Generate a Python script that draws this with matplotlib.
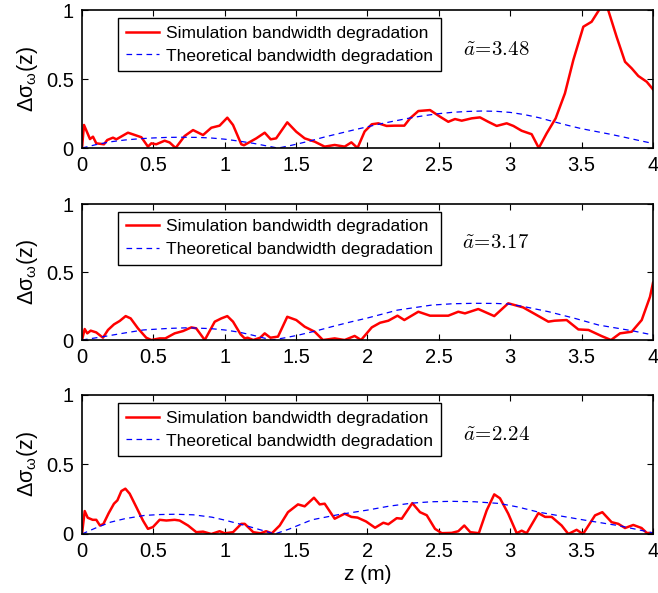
import matplotlib
matplotlib.use("Agg")
import matplotlib.pyplot as plt
import numpy as np

plt.rcParams['font.family'] = ['Liberation Sans', 'DejaVu Sans']

# panel 1 (a~ = 3.48)
z_sim1 = [0, 0.014, 0.056, 0.077, 0.10, 0.154, 0.177, 0.217, 0.241, 0.322, 0.357, 0.416, 0.462,
          0.486, 0.52, 0.579, 0.614, 0.656, 0.719, 0.778, 0.848, 0.906, 0.964, 1.018, 1.058,
          1.116, 1.135, 1.221, 1.28, 1.322, 1.36, 1.438, 1.501, 1.56, 1.63, 1.70, 1.77, 1.84,
          1.887, 1.93, 1.98, 2.03, 2.076, 2.134, 2.19, 2.258, 2.298, 2.356, 2.438, 2.508, 2.566,
          2.613, 2.66, 2.73, 2.788, 2.846, 2.905, 2.975, 3.022, 3.08, 3.15, 3.20, 3.255, 3.318,
          3.383, 3.442, 3.512, 3.57, 3.628, 3.655, 3.683, 3.745, 3.804, 3.851, 3.897, 3.956, 4.0]
sim1 = [0, 0.167, 0.065, 0.082, 0.034, 0.027, 0.058, 0.075, 0.063, 0.111, 0.099, 0.078, 0.01,
        0.034, 0.027, 0.053, 0.04, 0.0, 0.087, 0.13, 0.094, 0.147, 0.162, 0.22, 0.167,
        0.027, 0.02, 0.07, 0.111, 0.063, 0.07, 0.186, 0.118, 0.07, 0.046, 0.01, 0.022, 0.01,
        0.041, 0.0, 0.12, 0.172, 0.179, 0.16, 0.162, 0.162, 0.215, 0.268, 0.275, 0.227, 0.19,
        0.21, 0.198, 0.215, 0.222, 0.19, 0.16, 0.179, 0.16, 0.125, 0.1, 0.0, 0.106, 0.215,
        0.396, 0.638, 0.879, 0.915, 1.01, 1.03, 1.01, 0.806, 0.625, 0.577, 0.522, 0.48, 0.425]
z_th1 = [0, 0.1, 0.2, 0.3, 0.4, 0.5, 0.6, 0.7, 0.8, 0.9, 1.0, 1.1, 1.2, 1.3, 1.37, 1.4, 1.5,
         1.6, 1.7, 1.8, 1.9, 2.0, 2.1, 2.2, 2.3, 2.4, 2.5, 2.6, 2.7, 2.8, 2.9, 3.0, 3.1, 3.2,
         3.3, 3.4, 3.5, 3.6, 3.7, 3.8, 3.9, 4.0]
th1 = [0, 0.025, 0.045, 0.058, 0.067, 0.073, 0.077, 0.078, 0.077, 0.073, 0.064, 0.05, 0.034,
       0.014, 0.0, 0.005, 0.027, 0.052, 0.08, 0.105, 0.13, 0.154, 0.177, 0.198, 0.218, 0.235,
       0.249, 0.259, 0.265, 0.268, 0.266, 0.258, 0.242, 0.22, 0.192, 0.165, 0.14, 0.12, 0.1,
       0.078, 0.055, 0.033]

# panel 2 (a~ = 3.17)
z_sim2 = [0, 0.019, 0.037, 0.061, 0.10, 0.147, 0.182, 0.224, 0.264, 0.306, 0.341, 0.392, 0.45,
          0.486, 0.544, 0.584, 0.649, 0.708, 0.766, 0.80, 0.86, 0.93, 0.976, 1.018, 1.058,
          1.111, 1.14, 1.16, 1.2, 1.248, 1.28, 1.32, 1.373, 1.438, 1.501, 1.56, 1.63, 1.688,
          1.77, 1.84, 1.91, 1.955, 2.03, 2.088, 2.146, 2.21, 2.258, 2.356, 2.438, 2.566,
          2.636, 2.683, 2.776, 2.888, 2.986, 3.09, 3.173, 3.267, 3.31, 3.395, 3.477, 3.548,
          3.64, 3.706, 3.769, 3.851, 3.921, 3.979, 4.0]
sim2 = [0, 0.081, 0.049, 0.069, 0.056, 0.017, 0.074, 0.115, 0.14, 0.176, 0.159, 0.086, 0.017,
        0.0, 0.012, 0.012, 0.049, 0.066, 0.093, 0.086, 0.0, 0.135, 0.159, 0.176, 0.135,
        0.042, 0.012, 0.017, 0.0, 0.017, 0.049, 0.017, 0.025, 0.171, 0.147, 0.098, 0.061, 0.0,
        0.012, 0.0, 0.03, 0.0, 0.093, 0.127, 0.142, 0.179, 0.147, 0.208, 0.179, 0.179,
        0.208, 0.196, 0.228, 0.176, 0.27, 0.24, 0.191, 0.135, 0.142, 0.147, 0.078, 0.074,
        0.029, 0.0, 0.049, 0.061, 0.147, 0.318, 0.421]
z_th2 = [0, 0.15, 0.3, 0.43, 0.6, 0.735, 0.9, 1.0, 1.1, 1.19, 1.33, 1.42, 1.52, 1.65, 1.75,
         1.87, 2.0, 2.21, 2.45, 2.6, 2.75, 2.9, 2.986, 3.1, 3.27, 3.45, 3.62, 3.85, 4.0]
th2 = [0, 0.025, 0.052, 0.074, 0.085, 0.09, 0.084, 0.074, 0.058, 0.037, 0.0, 0.016, 0.037,
       0.07, 0.098, 0.13, 0.162, 0.22, 0.257, 0.267, 0.27, 0.269, 0.265, 0.245, 0.208,
       0.16, 0.11, 0.069, 0.037]

# panel 3 (a~ = 2.24)
z_sim3 = [0, 0.019, 0.04, 0.075, 0.10, 0.126, 0.15, 0.187, 0.224, 0.248, 0.276, 0.304, 0.334,
          0.381, 0.427, 0.462, 0.497, 0.544, 0.591, 0.649, 0.684, 0.743, 0.801, 0.848, 0.906,
          0.964, 1.0, 1.058, 1.116, 1.14, 1.2, 1.25, 1.29, 1.33, 1.385, 1.443, 1.513, 1.56,
          1.625, 1.665, 1.70, 1.77, 1.84, 1.887, 1.93, 1.99, 2.053, 2.111, 2.146, 2.205, 2.24,
          2.314, 2.368, 2.415, 2.473, 2.52, 2.59, 2.636, 2.678, 2.72, 2.78, 2.835, 2.888,
          2.928, 2.986, 3.045, 3.08, 3.115, 3.197, 3.244, 3.29, 3.36, 3.407, 3.465, 3.51,
          3.594, 3.645, 3.71, 3.757, 3.804, 3.862, 3.92, 3.956, 4.0]
sim3 = [0, 0.165, 0.117, 0.102, 0.102, 0.061, 0.072, 0.15, 0.218, 0.242, 0.309, 0.326, 0.29,
        0.193, 0.097, 0.037, 0.05, 0.102, 0.097, 0.102, 0.097, 0.061, 0.013, 0.017, 0.0,
        0.02, 0.005, 0.013, 0.073, 0.073, 0.013, 0.005, 0.02, 0.005, 0.061, 0.157, 0.213, 0.199,
        0.261, 0.213, 0.218, 0.11, 0.146, 0.123, 0.118, 0.09, 0.045, 0.081, 0.07, 0.114, 0.11,
        0.222, 0.157, 0.135, 0.037, 0.006, 0.008, 0.02, 0.061, 0.013, 0.006, 0.17, 0.285,
        0.257, 0.146, 0.006, 0.024, 0.006, 0.15, 0.123, 0.123, 0.061, 0.0, 0.03, 0.0,
        0.134, 0.157, 0.085, 0.073, 0.043, 0.065, 0.043, 0.008, 0.006]
z_th3 = [0, 0.1, 0.2, 0.3, 0.44, 0.55, 0.65, 0.78, 0.91, 1.0, 1.1, 1.2, 1.35, 1.45, 1.61, 1.8,
         2.0, 2.15, 2.31, 2.45, 2.59, 2.75, 2.92, 3.05, 3.2, 3.35, 3.52, 3.76, 3.9, 4.0]
th3 = [0, 0.045, 0.085, 0.11, 0.134, 0.14, 0.142, 0.138, 0.121, 0.1, 0.073, 0.045, 0.0,
       0.035, 0.102, 0.14, 0.172, 0.2, 0.222, 0.232, 0.235, 0.232, 0.22, 0.195, 0.157,
       0.13, 0.1, 0.06, 0.03, 0.008]

panels = [(z_sim1, sim1, z_th1, th1, '3.48'),
          (z_sim2, sim2, z_th2, th2, '3.17'),
          (z_sim3, sim3, z_th3, th3, '2.24')]

xticks = [0, 0.5, 1, 1.5, 2, 2.5, 3, 3.5, 4]
xticklabels = ['0', '0.5', '1', '1.5', '2', '2.5', '3', '3.5', '4']
yticks = [0, 0.5, 1]
yticklabels = ['0', '0.5', '1']

fig = plt.figure(figsize=(6.58, 5.93), dpi=100)
rects = [[0.1246, 0.7504, 0.8678, 0.2327],
         [0.1246, 0.4266, 0.8678, 0.2293],
         [0.1246, 0.0995, 0.8678, 0.2344]]

for rect, (zs, s, zt, t, a) in zip(rects, panels):
    ax = fig.add_axes(rect)
    ax.plot(zs, s, color='red', lw=1.8, label='Simulation bandwidth degradation')
    ax.plot(zt, t, color='blue', lw=0.9, dashes=(4.5, 3.5), label='Theoretical bandwidth degradation')
    ax.set_xlim(0, 4)
    ax.set_ylim(0, 1)
    ax.set_xticks(xticks)
    ax.set_xticklabels(xticklabels)
    ax.set_yticks(yticks)
    ax.set_yticklabels(yticklabels)
    ax.tick_params(direction='in', top=True, right=True, labelsize=14.5, length=4, width=0.8, pad=6)
    for sp in ax.spines.values():
        sp.set_linewidth(1.2)
    ax.set_ylabel(r'Δσ$_\mathregular{ω}$(z)', fontsize=15.5, labelpad=4)
    leg = ax.legend(loc='upper left', bbox_to_anchor=(0.063, 0.945), borderaxespad=0,
                    fontsize=12.5, fancybox=False, framealpha=1, edgecolor='black',
                    handlelength=1.9, handletextpad=0.4, borderpad=0.45, labelspacing=0.45)
    leg.get_frame().set_linewidth(1.0)
    ax.text(0.725, 0.715, r'$\tilde{a}\!=\!%s$' % a, transform=ax.transAxes, fontsize=15,
            ha='center', va='center', math_fontfamily='cm')
    if a == '2.24':
        ax.set_xlabel('z (m)', fontsize=15, labelpad=3)

fig.savefig('out.png', dpi=100)
